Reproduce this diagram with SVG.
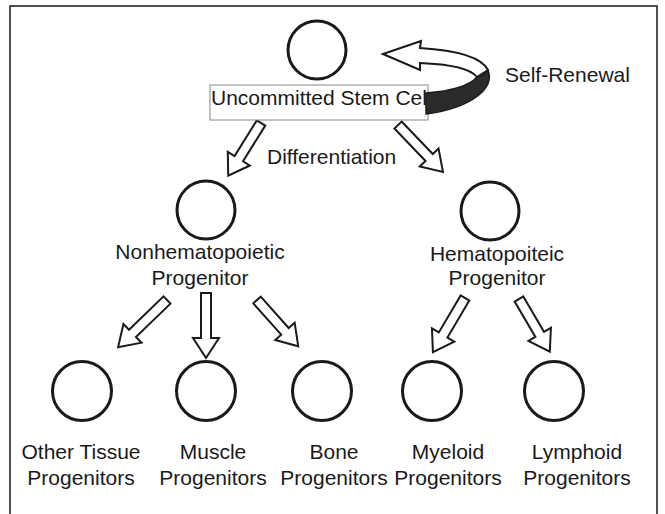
<svg xmlns="http://www.w3.org/2000/svg" width="665" height="514" viewBox="0 0 665 514">
<style>
text{font-family:"Liberation Sans",Arial,sans-serif;font-size:21px;fill:#1a1a1a}
.c{fill:none;stroke:#1a1a1a;stroke-width:3}
.arr{fill:#fff;stroke:#1a1a1a;stroke-width:2;stroke-linejoin:miter}
.m{text-anchor:middle}
</style>
<rect width="665" height="514" fill="#fff"/>
<path d="M10,514 V6 H657 V514" fill="none" stroke="#1a1a1a" stroke-width="1.5"/>

<g id="connectors">
<polygon class="arr" transform="translate(261,123) rotate(121.9)" points="0,-5 42,-5 42,-13 62,0 42,13 42,5 0,5"/>
<polygon class="arr" transform="translate(398,125) rotate(46.2)" points="0,-5 45,-5 45,-13 65,0 45,13 45,5 0,5"/>
<polygon class="arr" transform="translate(167,300) rotate(136)" points="0,-5 48,-5 48,-13 68,0 48,13 48,5 0,5"/>
<polygon class="arr" transform="translate(206,293) rotate(90)" points="0,-5 45,-5 45,-13 65,0 45,13 45,5 0,5"/>
<polygon class="arr" transform="translate(257,300) rotate(48.3)" points="0,-5 42,-5 42,-13 62,0 42,13 42,5 0,5"/>
<polygon class="arr" transform="translate(465,298) rotate(120.6)" points="0,-5 43,-5 43,-13 63,0 43,13 43,5 0,5"/>
<polygon class="arr" transform="translate(519,299) rotate(59.7)" points="0,-5 41,-5 41,-13 61,0 41,13 41,5 0,5"/>
</g>

<g id="stem">
<circle class="c" cx="317" cy="50" r="29"/>
<rect x="210" y="85" width="218" height="35" fill="#fff" stroke="#888" stroke-width="1"/>
<text x="211" y="105">Uncommitted Stem Cel</text>
</g>

<g id="self-renewal">
<path d="M488,70 C495,88 472,108 426,114 L426,93 C452,91 470,85 477,77 Z" fill="#2b2b2b" stroke="#1a1a1a" stroke-width="1.5"/>
<path class="arr" d="M383,54 L421,41 L420,48 C452,50 481,56 488,70 L477,77 C470,68 445,64 420,63 L420,70 Z"/>
<text x="505" y="82">Self-Renewal</text>
</g>

<text x="267" y="164">Differentiation</text>

<g id="nonhemato">
<circle class="c" cx="206" cy="210" r="29"/>
<text class="m" x="200" y="259">Nonhematopoietic</text>
<text class="m" x="200" y="285">Progenitor</text>
</g>

<g id="hemato">
<circle class="c" cx="490" cy="211" r="29"/>
<text class="m" x="497" y="261">Hematopoiteic</text>
<text class="m" x="497" y="285">Progenitor</text>
</g>

<g id="other">
<circle class="c" cx="82" cy="391" r="29.5"/>
<text class="m" x="81" y="459">Other Tissue</text>
<text class="m" x="81" y="485">Progenitors</text>
</g>
<g id="muscle">
<circle class="c" cx="206" cy="391" r="29.5"/>
<text class="m" x="213" y="459">Muscle</text>
<text class="m" x="213" y="485">Progenitors</text>
</g>
<g id="bone">
<circle class="c" cx="322" cy="391" r="29.5"/>
<text class="m" x="334" y="459">Bone</text>
<text class="m" x="334" y="485">Progenitors</text>
</g>
<g id="myeloid">
<circle class="c" cx="432" cy="391" r="29.5"/>
<text class="m" x="448" y="459">Myeloid</text>
<text class="m" x="448" y="485">Progenitors</text>
</g>
<g id="lymphoid">
<circle class="c" cx="554" cy="391" r="29.5"/>
<text class="m" x="577" y="459">Lymphoid</text>
<text class="m" x="577" y="485">Progenitors</text>
</g>
</svg>
